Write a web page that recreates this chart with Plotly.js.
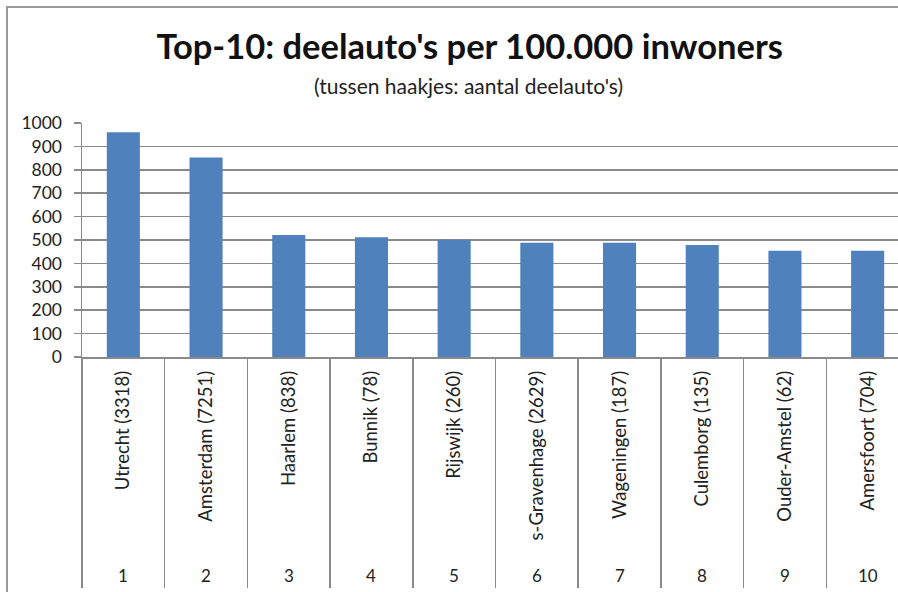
<!DOCTYPE html>
<html>
<head>
<meta charset="utf-8">
<script src="https://cdn.plot.ly/plotly-3.0.1.min.js"></script>
<style>
  html, body { margin: 0; padding: 0; background: #ffffff; overflow: hidden; }
  #chart { width: 898px; height: 592px; }
  #frame { position: absolute; left: 6px; top: 6px; width: 2000px; height: 2000px;
           border-top: 2px solid #9a9a9a; border-left: 2px solid #9a9a9a; pointer-events: none; }
</style>
</head>
<body>
<div id="chart"></div>
<div id="frame"></div>
<script>
// ---- data ----
const municipalities = ["Utrecht", "Amsterdam", "Haarlem", "Bunnik", "Rijswijk",
  "s-Gravenhage", "Wageningen", "Culemborg", "Ouder-Amstel", "Amersfoort"];
const carCounts = [3318, 7251, 838, 78, 260, 2629, 187, 135, 62, 704];
const ranks = ["1", "2", "3", "4", "5", "6", "7", "8", "9", "10"];
const carsPer100k = [960, 853, 521, 512, 501, 488, 488, 479, 454, 454];
const yTicks = [0, 100, 200, 300, 400, 500, 600, 700, 800, 900, 1000];

const labels = municipalities.map((m, i) => m + " (" + carCounts[i] + ")");

const FONT = "Lato, 'Open Sans', sans-serif";
const GRID = "#8a8a8a";

const trace = {
  type: "bar",
  x: labels,
  y: carsPer100k,
  marker: { color: "#4F81BD", line: { width: 0 } },
  width: 0.4,
  hoverinfo: "x+y"
};

const rankAnnotations = labels.map((lab, i) => ({
  xref: "x", yref: "paper",
  x: lab, y: -0.935,
  text: ranks[i],
  showarrow: false,
  xanchor: "center", yanchor: "middle",
  font: { family: FONT, size: 17, color: "#222" }
}));

const layout = {
  width: 898, height: 592,
  margin: { l: 82, r: 0, t: 123, b: 235, pad: 0 },
  paper_bgcolor: "#ffffff",
  plot_bgcolor: "#ffffff",
  showlegend: false,
  bargap: 0.6,
  title: {
    text: "<b>Top-10: deelauto's per 100.000 inwoners</b>",
    xref: "container", yref: "container",
    x: 0.523, y: 1 - 47 / 592,
    xanchor: "center", yanchor: "middle",
    font: { family: FONT, size: 34.5, color: "#111" }
  },
  annotations: [{
    xref: "paper", yref: "paper",
    x: (468 - 82) / 816, y: (357 - 86) / 234,
    xanchor: "center", yanchor: "middle",
    showarrow: false,
    text: "(tussen haakjes: aantal deelauto's)",
    font: { family: FONT, size: 21, color: "#222" }
  }].concat(rankAnnotations),
  xaxis: {
    type: "category",
    range: [-0.5, 9.367],
    showgrid: false,
    zeroline: false,
    showline: true, linecolor: GRID, linewidth: 1.5,
    ticks: "outside", tickson: "boundaries", ticklen: 229,
    tickcolor: GRID, tickwidth: 1.5,
    tickangle: -90,
    ticklabelstandoff: 5,
    tickfont: { family: FONT, size: 18.5, color: "#222" },
    automargin: false,
    fixedrange: true
  },
  yaxis: {
    range: [0, 1000],
    tickmode: "array", tickvals: yTicks, ticktext: yTicks.map(String),
    showgrid: true, gridcolor: GRID, gridwidth: 1.5,
    zeroline: false,
    showline: true, linecolor: GRID, linewidth: 1.5,
    ticks: "outside", ticklen: 7, tickcolor: GRID, tickwidth: 1.5,
    ticklabelstandoff: 8,
    tickfont: { family: FONT, size: 17.5, color: "#222" },
    automargin: false,
    fixedrange: true
  }
};

Plotly.newPlot("chart", [trace], layout, { displayModeBar: false, staticPlot: true });
</script>
</body>
</html>
